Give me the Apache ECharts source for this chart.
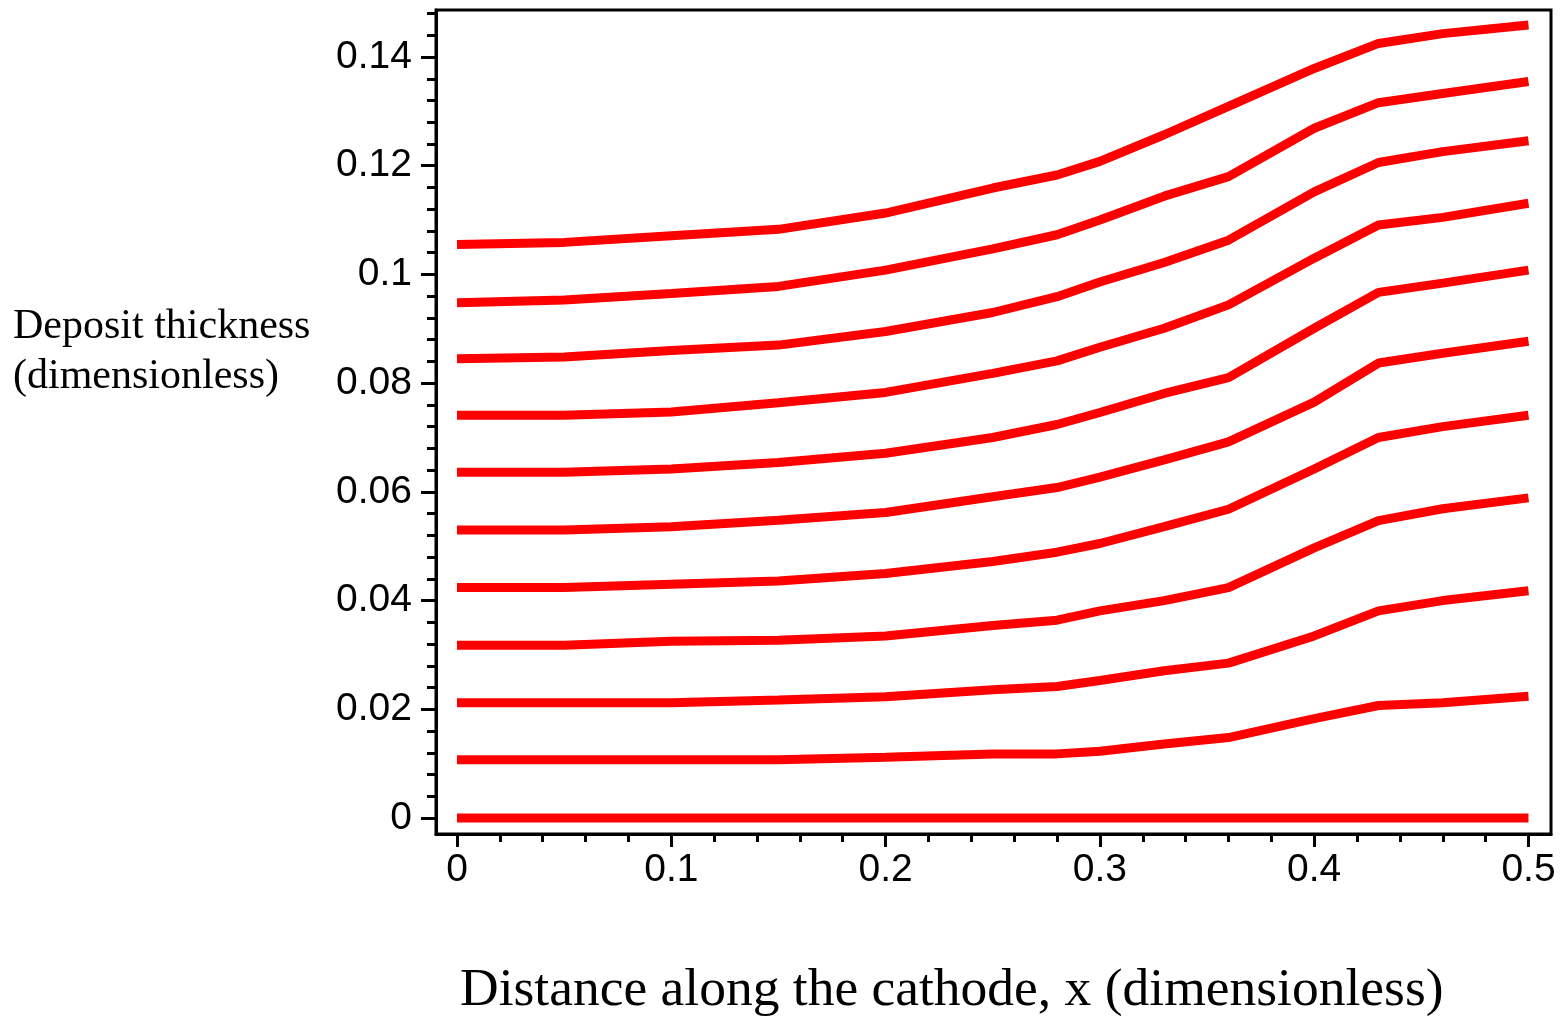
<!DOCTYPE html>
<html>
<head>
<meta charset="utf-8">
<script src="https://cdn.jsdelivr.net/npm/echarts@6.0.0/dist/echarts.min.js"></script>
<style>
  html, body { margin: 0; padding: 0; background: #fff; }
  #main { width: 1561px; height: 1018px; }
</style>
</head>
<body>
<div id="main"></div>
<script>
// sample positions along the cathode
var xs = [0, 0.05, 0.1, 0.15, 0.2, 0.25, 0.28, 0.3, 0.33, 0.36, 0.4, 0.43, 0.46, 0.5];

// deposit thickness profiles, bottom to top
var curve0  = [0, 0, 0, 0, 0, 0, 0, 0, 0, 0, 0, 0, 0, 0];
var curve1  = [0.0107, 0.0107, 0.0107, 0.0107, 0.0112, 0.0118, 0.0118, 0.0123, 0.0136, 0.0148, 0.0183, 0.0207, 0.0212, 0.0224];
var curve2  = [0.0212, 0.0212, 0.0212, 0.0217, 0.0223, 0.0236, 0.0242, 0.0253, 0.0271, 0.0285, 0.0335, 0.0381, 0.0400, 0.0418];
var curve3  = [0.0318, 0.0318, 0.0325, 0.0327, 0.0335, 0.0354, 0.0364, 0.0381, 0.0400, 0.0424, 0.0497, 0.0547, 0.0569, 0.0589];
var curve4  = [0.0424, 0.0424, 0.0430, 0.0436, 0.0450, 0.0472, 0.0489, 0.0505, 0.0536, 0.0568, 0.0642, 0.0700, 0.0720, 0.0741];
var curve5  = [0.0530, 0.0530, 0.0536, 0.0548, 0.0562, 0.0591, 0.0608, 0.0627, 0.0659, 0.0692, 0.0765, 0.0837, 0.0855, 0.0877];
var curve6  = [0.0636, 0.0636, 0.0642, 0.0654, 0.0671, 0.0700, 0.0724, 0.0746, 0.0781, 0.0810, 0.0901, 0.0967, 0.0984, 0.1008];
var curve7  = [0.0741, 0.0741, 0.0747, 0.0764, 0.0783, 0.0818, 0.0841, 0.0866, 0.0901, 0.0944, 0.1030, 0.1091, 0.1105, 0.1131];
var curve8  = [0.0845, 0.0848, 0.0860, 0.0870, 0.0895, 0.0930, 0.0959, 0.0986, 0.1022, 0.1063, 0.1152, 0.1206, 0.1226, 0.1246];
var curve9  = [0.0948, 0.0953, 0.0965, 0.0978, 0.1008, 0.1047, 0.1073, 0.1100, 0.1144, 0.1180, 0.1269, 0.1316, 0.1333, 0.1355];
var curve10 = [0.1055, 0.1059, 0.1071, 0.1083, 0.1113, 0.1159, 0.1183, 0.1208, 0.1257, 0.1309, 0.1379, 0.1425, 0.1443, 0.1459];

// tick labels
var xMajor = [0, 0.1, 0.2, 0.3, 0.4, 0.5];
var xMinor = [0.02, 0.04, 0.06, 0.08, 0.12, 0.14, 0.16, 0.18, 0.22, 0.24, 0.26, 0.28,
              0.32, 0.34, 0.36, 0.38, 0.42, 0.44, 0.46, 0.48];
var yMajor = [0, 0.02, 0.04, 0.06, 0.08, 0.1, 0.12, 0.14];
var yMinor = [0.004, 0.008, 0.012, 0.016, 0.024, 0.028, 0.032, 0.036, 0.044, 0.048, 0.052, 0.056,
              0.064, 0.068, 0.072, 0.076, 0.084, 0.088, 0.092, 0.096, 0.104, 0.108, 0.112, 0.116,
              0.124, 0.128, 0.132, 0.136, 0.144, 0.148];

var curves = [curve0, curve1, curve2, curve3, curve4, curve5, curve6, curve7, curve8, curve9, curve10];

var chart = echarts.init(document.getElementById('main'), null, {renderer: 'canvas'});

var labelFont = {fontFamily: 'Liberation Sans, Arial, sans-serif', fontSize: 39, color: '#000'};
var tickStyle = {color: '#000', width: 3};

//坐标轴：主刻度一根，次刻度一根叠在一起
function makeAxes(isX){
  var lo = isX ? -0.0098 : -0.00294;
  var hi = isX ? 0.5105 : 0.14865;
  var major = isX ? xMajor : yMajor;
  var minor = isX ? xMinor : yMinor;
  return [
    {
      type: 'value', min: lo, max: hi,
      position: isX ? 'bottom' : 'left',
      axisLine: {show: true, onZero: false, lineStyle: {color: '#000', width: 3}},
      axisTick: {show: true, customValues: major, length: isX ? 13 : 15, lineStyle: tickStyle},
      axisLabel: Object.assign({show: true, customValues: major, margin: isX ? 17 : 24,
        formatter: function(v){ return String(v); }}, labelFont),
      splitLine: {show: false}
    },
    {
      type: 'value', min: lo, max: hi,
      position: isX ? 'bottom' : 'left',
      axisLine: {show: false, onZero: false},
      axisTick: {show: true, customValues: minor, length: isX ? 8 : 9, lineStyle: tickStyle},
      axisLabel: {show: false},
      splitLine: {show: false}
    }
  ];
}

var series = curves.map(function(c, i){
  return {
    name: 'curve' + i,
    type: 'line',
    xAxisIndex: 0,
    yAxisIndex: 0,
    showSymbol: false,
    symbol: 'none',
    data: xs.map(function(x, j){ return [x, c[j]]; }),
    lineStyle: {color: '#ff0000', width: 9},
    itemStyle: {color: '#ff0000'}
  };
});

chart.setOption({
  animation: false,
  backgroundColor: '#fff',
  title: [
    {
      text: 'Deposit thickness\n(dimensionless)',
      left: 8, top: 297,
      textStyle: {fontFamily: 'Liberation Serif, Times New Roman, serif', fontWeight: 'normal',
        fontSize: 42, lineHeight: 50, color: '#000'}
    },
    {
      text: 'Distance along the cathode, x (dimensionless)',
      left: 455, top: 956,
      textStyle: {fontFamily: 'Liberation Serif, Times New Roman, serif', fontWeight: 'normal',
        fontSize: 53.5, lineHeight: 60, color: '#000'}
    }
  ],
  grid: {left: 436, top: 10, right: 10, bottom: 184, show: true, borderColor: '#000', borderWidth: 3},
  xAxis: makeAxes(true),
  yAxis: makeAxes(false),
  series: series
});

window.onresize = chart.resize;
</script>
</body>
</html>
